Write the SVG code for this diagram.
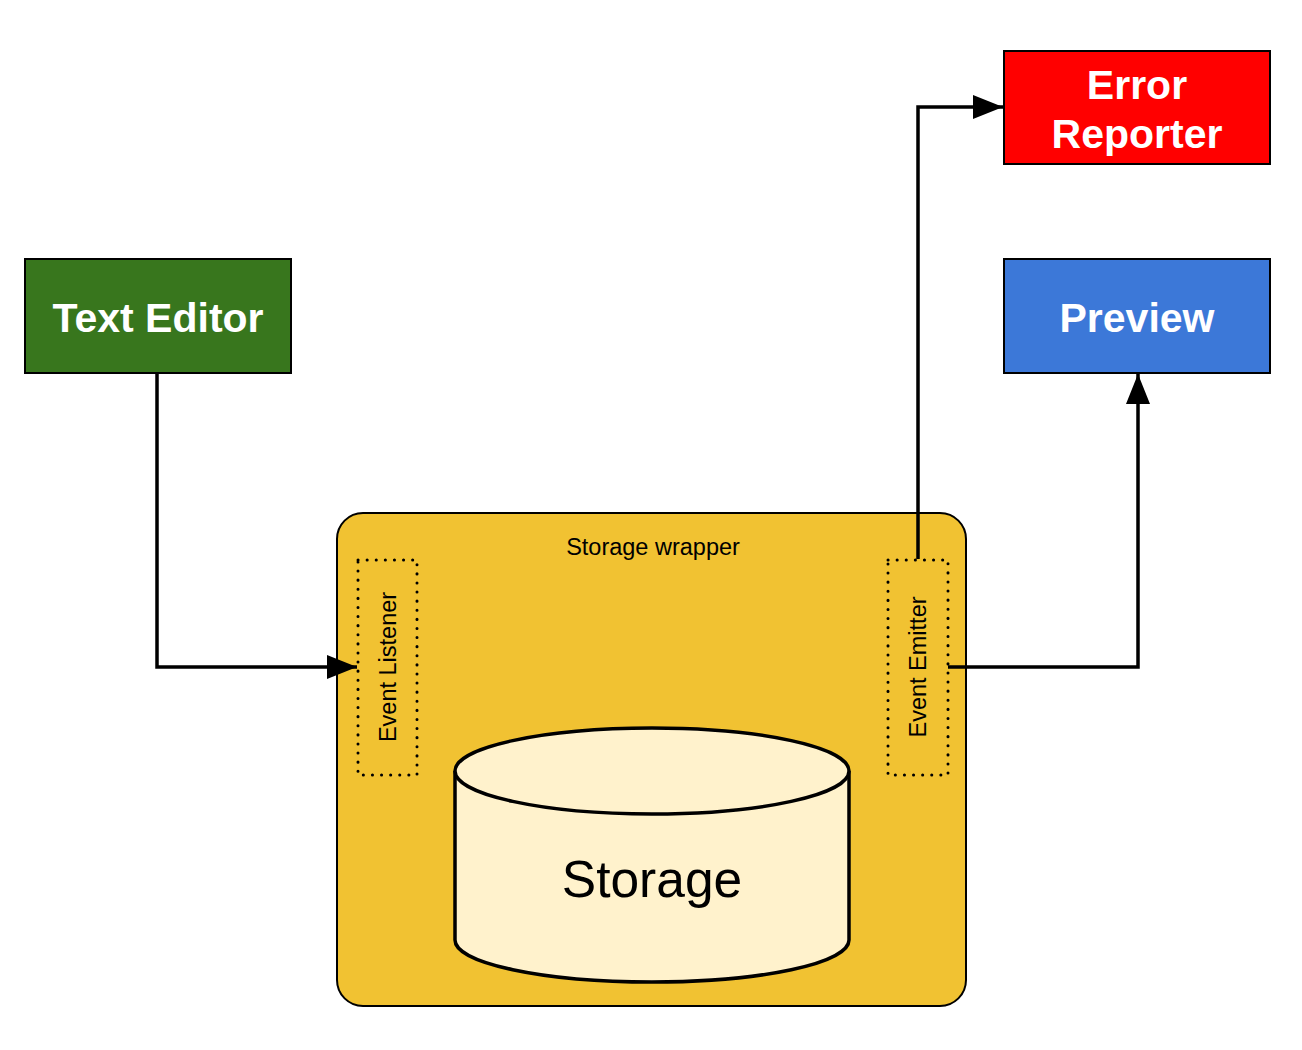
<svg xmlns="http://www.w3.org/2000/svg" width="1302" height="1050" viewBox="0 0 1302 1050">
<style>
.box{stroke:#000;stroke-width:2}
.big{font-family:"Liberation Sans",Arial,sans-serif;font-weight:bold;font-size:41px;fill:#fff;text-anchor:middle}
.small{font-family:"Liberation Sans",Arial,sans-serif;font-size:23.5px;fill:#000;text-anchor:middle}
.dot{fill:none;stroke:#000;stroke-width:3;stroke-dasharray:0.1 9;stroke-linecap:round}
.conn{fill:none;stroke:#000;stroke-width:3.5}
</style>
<defs>
<marker id="arrow" viewBox="0 0 30 24" markerWidth="30" markerHeight="24" refX="30" refY="12" orient="auto" markerUnits="userSpaceOnUse">
<path d="M0,0 L30,12 L0,24 Z" fill="#000"/>
</marker>
</defs>
<rect width="1302" height="1050" fill="#fff"/>
<g id="wrapper">
<rect x="337" y="513" width="629" height="493" rx="26" fill="#f1c232" class="box"/>
<text x="653" y="555" class="small">Storage wrapper</text>
</g>
<g id="event-listener">
<rect x="358" y="560" width="59" height="215" class="dot"/>
<text class="small" transform="translate(396,667) rotate(-90)">Event Listener</text>
</g>
<g id="event-emitter">
<rect x="888" y="560" width="60" height="215" class="dot"/>
<text class="small" transform="translate(926,667) rotate(-90)">Event Emitter</text>
</g>
<g id="storage">
<path d="M455,771 L455,940 A197,42 0 0 0 849,940 L849,771" fill="#fff2cc" stroke="#000" stroke-width="3.5"/>
<ellipse cx="652" cy="771" rx="197" ry="43" fill="#fff2cc" stroke="#000" stroke-width="3.5"/>
<text x="652" y="897" font-family="Liberation Sans,Arial,sans-serif" font-size="51.5" text-anchor="middle" fill="#000">Storage</text>
</g>
<g id="text-editor">
<rect x="25" y="259" width="266" height="114" fill="#38761d" class="box"/>
<text x="158" y="332" class="big">Text Editor</text>
</g>
<g id="error-reporter">
<rect x="1004" y="51" width="266" height="113" fill="#ff0000" class="box"/>
<text x="1137" y="99" class="big">Error</text>
<text x="1137" y="148" class="big">Reporter</text>
</g>
<g id="preview">
<rect x="1004" y="259" width="266" height="114" fill="#3c78d8" class="box"/>
<text x="1137" y="332" class="big">Preview</text>
</g>
<g id="connectors">
<path d="M157,374 L157,667 L357,667" class="conn" marker-end="url(#arrow)"/>
<path d="M918,559 L918,107 L1003,107" class="conn" marker-end="url(#arrow)"/>
<path d="M948,667 L1138,667 L1138,374" class="conn" marker-end="url(#arrow)"/>
</g>
</svg>
